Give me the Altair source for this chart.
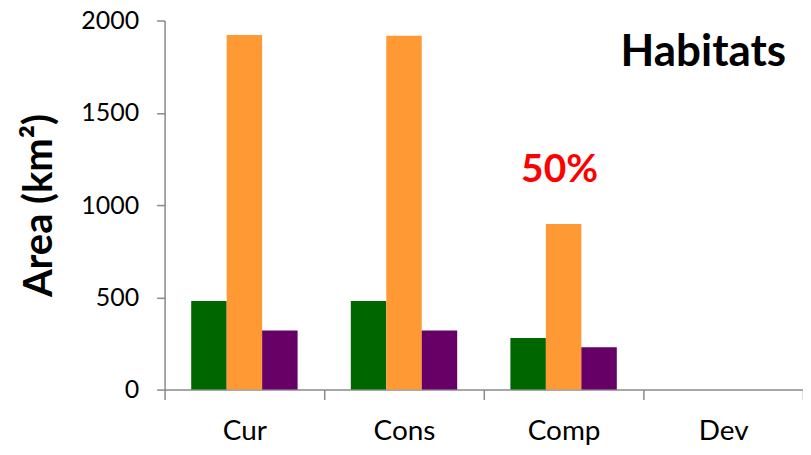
import altair as alt
import pandas as pd

categories = ["Cur", "Cons", "Comp", "Dev"]
series_names = ["Series 1", "Series 2", "Series 3"]
series_colors = ["#006600", "#FF9933", "#660066"]
green_vals = [480, 480, 280, 0]
orange_vals = [1922, 1918, 898, 0]
purple_vals = [320, 320, 230, 0]
y_ticks = [0, 500, 1000, 1500, 2000]
note_labels = ["50%"]
note_cats = ["Comp"]
note_levels = [1190]
panel_title = ["Habitats"]
panel_title_cat = ["Dev"]
panel_title_level = [1825]

rows = []
for vals, s in zip([green_vals, orange_vals, purple_vals], series_names):
    for c, v in zip(categories, vals):
        rows.append({"cat": c, "series": s, "area": v})
df = pd.DataFrame(rows)
note_df = pd.DataFrame({"cat": note_cats, "area": note_levels, "label": note_labels})
title_df = pd.DataFrame({"cat": panel_title_cat, "area": panel_title_level, "label": panel_title})

AXC = "#8a8a8a"
FONT = "Lato"

bars = alt.Chart(df).mark_bar().encode(
    x=alt.X(
        "cat:N",
        sort=categories,
        scale=alt.Scale(paddingInner=0, paddingOuter=0),
        axis=alt.Axis(
            title=None, labelAngle=0, tickBand="extent", tickSize=10,
            labelFontSize=28, labelPadding=18, labelColor="black",
            domainColor=AXC, tickColor=AXC, domainWidth=1.5, tickWidth=1.5,
        ),
    ),
    xOffset=alt.XOffset(
        "series:N", sort=series_names,
        scale=alt.Scale(paddingInner=0, paddingOuter=0.75),
    ),
    y=alt.Y(
        "area:Q",
        scale=alt.Scale(domain=[0, 2000], nice=False),
        axis=alt.Axis(
            values=y_ticks, format="d", title="Area (km²)", grid=False, tickSize=8,
            labelFontSize=25, labelPadding=18, labelColor="black",
            titleFontSize=40, titleFontWeight="bold", titleColor="black",
            titlePadding=21, domainColor=AXC, tickColor=AXC,
            domainWidth=1.5, tickWidth=1.5,
        ),
    ),
    color=alt.Color(
        "series:N", scale=alt.Scale(domain=series_names, range=series_colors),
        legend=None,
    ),
)

note = alt.Chart(note_df).mark_text(
    color="#FF0000", fontSize=39, fontWeight="bold", baseline="middle", dx=-4,
    font=FONT,
).encode(
    x=alt.X("cat:N", sort=categories),
    y=alt.Y("area:Q"),
    text="label:N",
)

panel = alt.Chart(title_df).mark_text(
    color="black", fontSize=44, fontWeight="bold", baseline="middle",
    align="right", dx=63, font=FONT,
).encode(
    x=alt.X("cat:N", sort=categories),
    y=alt.Y("area:Q"),
    text="label:N",
)

chart = alt.layer(bars, note, panel).properties(
    width=640,
    height=370,
    autosize=alt.AutoSizeParams(type="none"),
    padding={"left": 157, "top": 12, "right": 0, "bottom": 62},
).configure(font=FONT).configure_view(stroke=None)

chart.save("out.html", embed_options={"renderer": "svg", "actions": False})
